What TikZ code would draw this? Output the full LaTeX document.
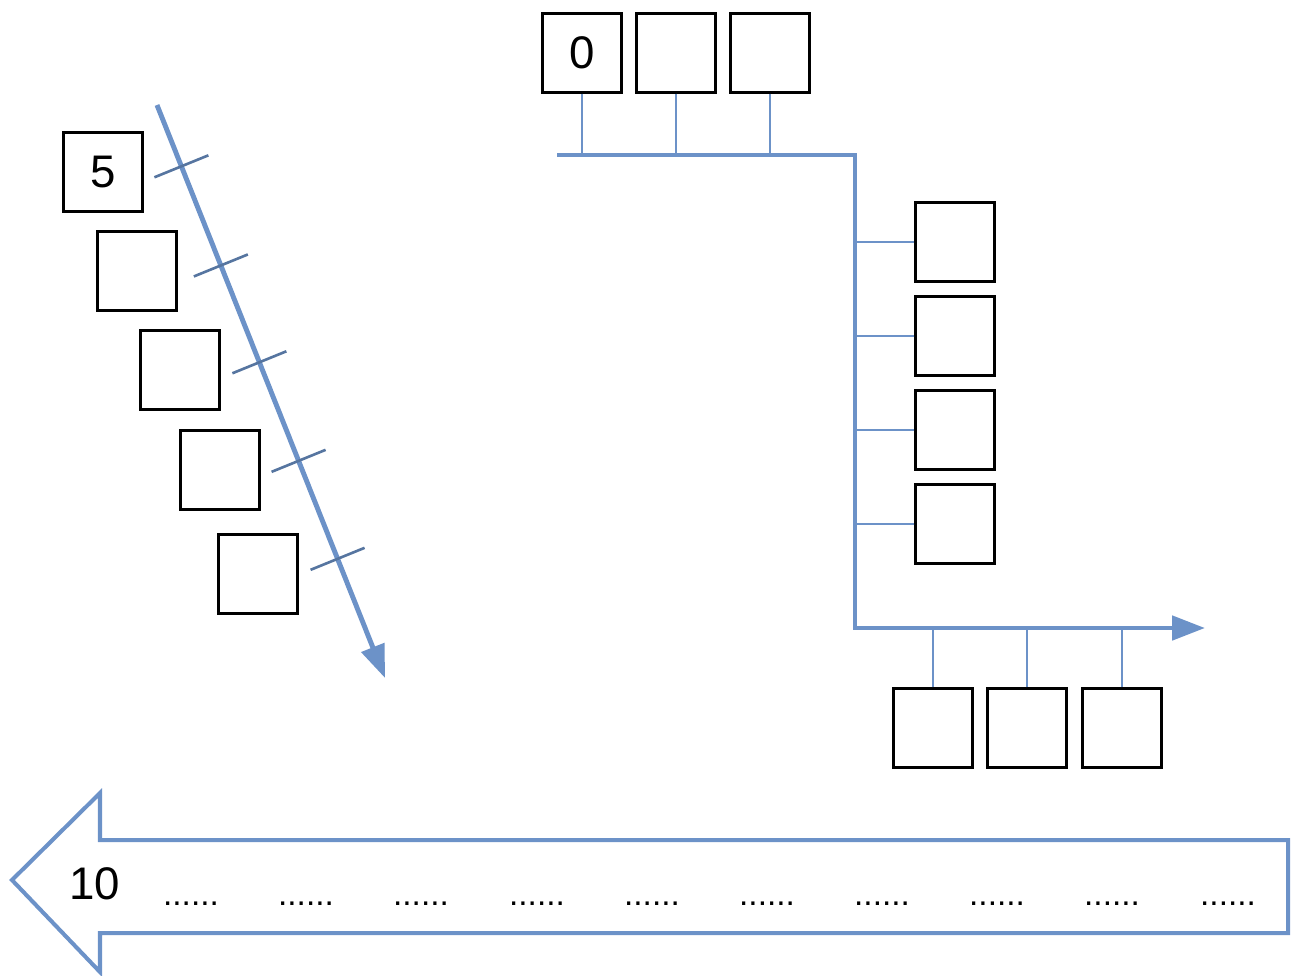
\documentclass[tikz,border=0pt]{standalone}
\usepackage{fontspec}
\setmainfont{Liberation Sans}
\usetikzlibrary{arrows.meta}
\definecolor{lineblue}{RGB}{108,146,200}

\begin{document}
\begin{tikzpicture}[x=0.02cm,y=-0.02cm,
    numbox/.style={draw, line width=1.3pt, minimum size=1.58cm, inner sep=0pt, font=\fontsize{26}{26}\selectfont},
    bus/.style={draw=lineblue, line width=2.8pt},
    stem/.style={draw=lineblue, line width=1.4pt},
    tickmark/.style={draw=lineblue!80!black, line width=1.5pt},
    tipblue/.style={-{Triangle[length=0.66cm,width=0.48cm,fill=lineblue]}}]
  \useasboundingbox (0,0) rectangle (1293,975);
  % number line along the bus
  \node[numbox] (t1) at (582,53) {0}; \node[numbox] (t2) at (676,53) {}; \node[numbox] (t3) at (770,53) {};
  \node[numbox] (r1) at (955,242) {}; \node[numbox] (r2) at (955,336) {}; \node[numbox] (r3) at (955,430) {}; \node[numbox] (r4) at (955,524) {};
  \node[numbox] (b1) at (933,728) {}; \node[numbox] (b2) at (1027,728) {}; \node[numbox] (b3) at (1122,728) {};
  \coordinate (busStart) at (557,155); \coordinate (busTurnA) at (855,155);
  \coordinate (busTurnB) at (855,628); \coordinate (busEnd) at (1205,628);
  \draw[bus, tipblue] (busStart) -- (busTurnA) -- (busTurnB) -- (busEnd);
  \foreach \n in {t1,t2,t3} \draw[stem] (\n.south) -- (\n.south |- busStart);
  \foreach \n in {r1,r2,r3,r4} \draw[stem] (\n.west) -- (\n.west -| busTurnA);
  \foreach \n in {b1,b2,b3} \draw[stem] (\n.north) -- (\n.north |- busTurnB);
  % slanted number line
  \node[numbox] (l1) at (103,172) {5}; \node[numbox] (l2) at (137,271) {}; \node[numbox] (l3) at (180,370) {};
  \node[numbox] (l4) at (220,470) {}; \node[numbox] (l5) at (258,574) {};
  \coordinate (diagStart) at (157,105); \coordinate (diagEnd) at (385,678);
  \draw[bus, tipblue] (diagStart) -- (diagEnd);
  \path (diagStart) -- (diagEnd) coordinate[pos=0.107] (k1) coordinate[pos=0.280] (k2) coordinate[pos=0.449] (k3) coordinate[pos=0.621] (k4) coordinate[pos=0.792] (k5);
  \foreach \k in {k1,k2,k3,k4,k5} \draw[tickmark] (\k) ++(-27,11) -- ++(54,-22);
  % big arrow
  \draw[draw=lineblue, line width=2.3pt, line join=miter] (1288,840) -- (100,840) -- (100,793) -- (12,880) -- (100,972) -- (100,933) -- (1288,933) -- cycle;
  \node[font=\fontsize{26}{26}\selectfont] (ten) at (95,884) {10};
  \foreach \x [count=\i] in {191,306,421,537,652,767,882,997,1112,1228}
    \node[anchor=base, font=\fontsize{19}{19}\selectfont, inner sep=0pt] (dots\i) at (\x,905) {......};
\end{tikzpicture}
\end{document}
